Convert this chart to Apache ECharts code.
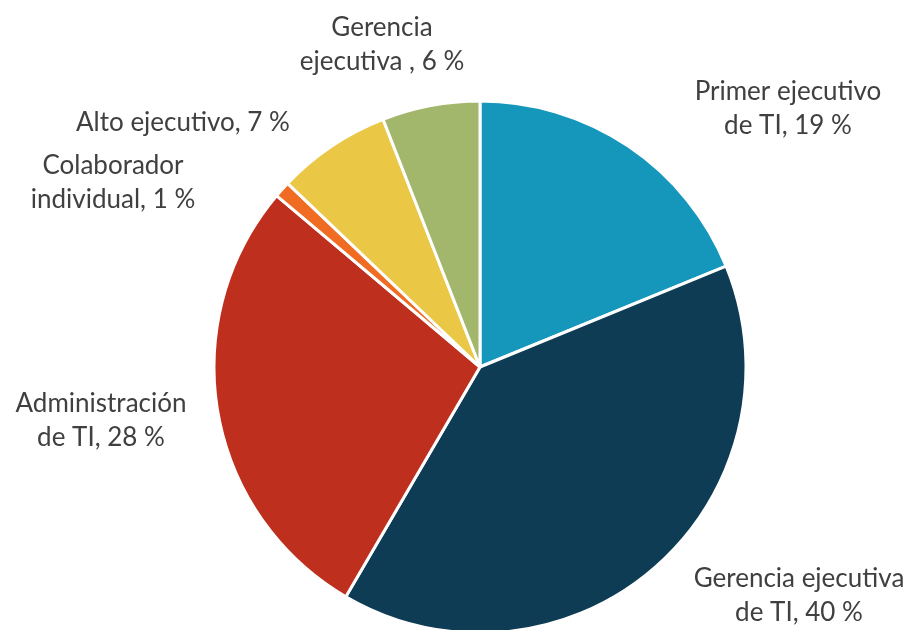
<!DOCTYPE html>
<html>
<head>
<meta charset="utf-8">
<script src="https://cdn.jsdelivr.net/npm/echarts@6/dist/echarts.min.js"></script>
<style>html,body{margin:0;padding:0;background:#fff;}#c{width:912px;height:630px;}</style>
</head>
<body>
<div id="c"></div>
<script>
const categories = ['Primer ejecutivo de TI', 'Gerencia ejecutiva de TI', 'Administración de TI', 'Colaborador individual', 'Alto ejecutivo', 'Gerencia ejecutiva'];
const values = [19, 40, 28, 1, 7, 6];
const labelTexts = ['Primer ejecutivo\nde TI, 19 %', 'Gerencia ejecutiva\nde TI, 40 %', 'Administración\nde TI, 28 %', 'Colaborador\nindividual, 1 %', 'Alto ejecutivo, 7 %', 'Gerencia\nejecutiva , 6 %'];

const colors = ['#1596BB', '#0E3C54', '#BF2F1E', '#F06C22', '#EAC845', '#A3B76C'];
const labelAnchors = [[788, 109], [799, 596], [101, 421], [113, 183], [183, 123], [382, 45]];

const chart = echarts.init(document.getElementById('c'));
chart.setOption({
  animation: false,
  series: [{
    type: 'pie',
    center: [480, 367],
    radius: 266,
    startAngle: 90,
    clockwise: true,
    avoidLabelOverlap: false,
    itemStyle: { borderColor: '#fff', borderWidth: 3 },
    label: {
      show: true,
      position: 'outside',
      formatter: p => labelTexts[p.dataIndex],
      fontFamily: 'Lato',
      fontSize: 26,
      lineHeight: 34,
      color: '#404040'
    },
    labelLine: { show: false },
    labelLayout: p => ({
      x: labelAnchors[p.dataIndex][0],
      y: labelAnchors[p.dataIndex][1],
      align: 'center',
      verticalAlign: 'middle'
    }),
    data: categories.map((c, i) => ({ name: c, value: values[i], itemStyle: { color: colors[i] } }))
  }]
});
</script>
</body>
</html>
